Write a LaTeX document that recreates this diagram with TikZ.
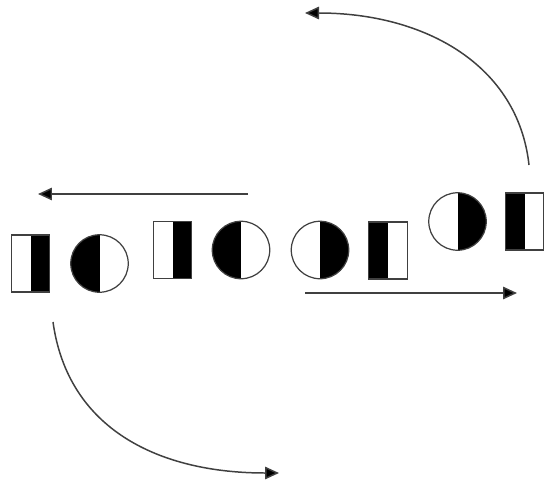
\documentclass[tikz,border=0pt]{standalone}
\usetikzlibrary{arrows.meta}

\begin{document}
\begin{tikzpicture}[
  x=0.02cm, y=-0.02cm,
  hbox/.style={draw=black!75, line width=0.7pt, inner sep=0pt,
               minimum width=0.77cm, minimum height=1.14cm},
  hdisc/.style={circle, draw=black!75, line width=0.7pt, inner sep=0pt,
                minimum size=1.15cm},
  blackleft/.style={path picture={\fill[black] (path picture bounding box.south west)
                    rectangle (path picture bounding box.north);}},
  blackright/.style={path picture={\fill[black] (path picture bounding box.south east)
                    rectangle (path picture bounding box.north);}},
  harr/.style={-{Triangle[length=2.8mm, width=2.5mm, fill=black]}, draw=black!75, line width=0.85pt}
]
\useasboundingbox (0,0) rectangle (546,486);

% ---------------------------------------------- the row of pieces
\node[hbox, blackright]  (box1)  at (30.5,263.5) {};
\node[hdisc, blackleft]  (disc1) at (99.5,263.5) {};
\node[hbox, blackright]  (box2)  at (172.5,250) {};
\node[hdisc, blackleft]  (disc2) at (241,250) {};
\node[hdisc, blackright] (disc3) at (320,250) {};
\node[hbox, blackleft]   (box3)  at (388,250.5) {};
\node[hdisc, blackright] (disc4) at (457.5,221.5) {};
\node[hbox, blackleft]   (box4)  at (524.5,221.5) {};

% ---------------------------------------------- straight arrows
\coordinate (leftS) at (248,194);
\coordinate (leftE) at (38,194);
\coordinate (rightS) at (305,293);
\coordinate (rightE) at (517,293);
\draw[harr] (leftS) -- (leftE);
\draw[harr] (rightS) -- (rightE);

% ---------------------------------------------- curved arrows
\coordinate (topS) at (529,165);
\coordinate (topE) at (305,13);
\coordinate (botS) at (53,322);
\coordinate (botE) at (279,473);
\draw[harr] (topS) .. controls (518,65) and (425,13) .. (topE);
\draw[harr] (botS) .. controls (68,430) and (160,473) .. (botE);

\end{tikzpicture}
\end{document}
